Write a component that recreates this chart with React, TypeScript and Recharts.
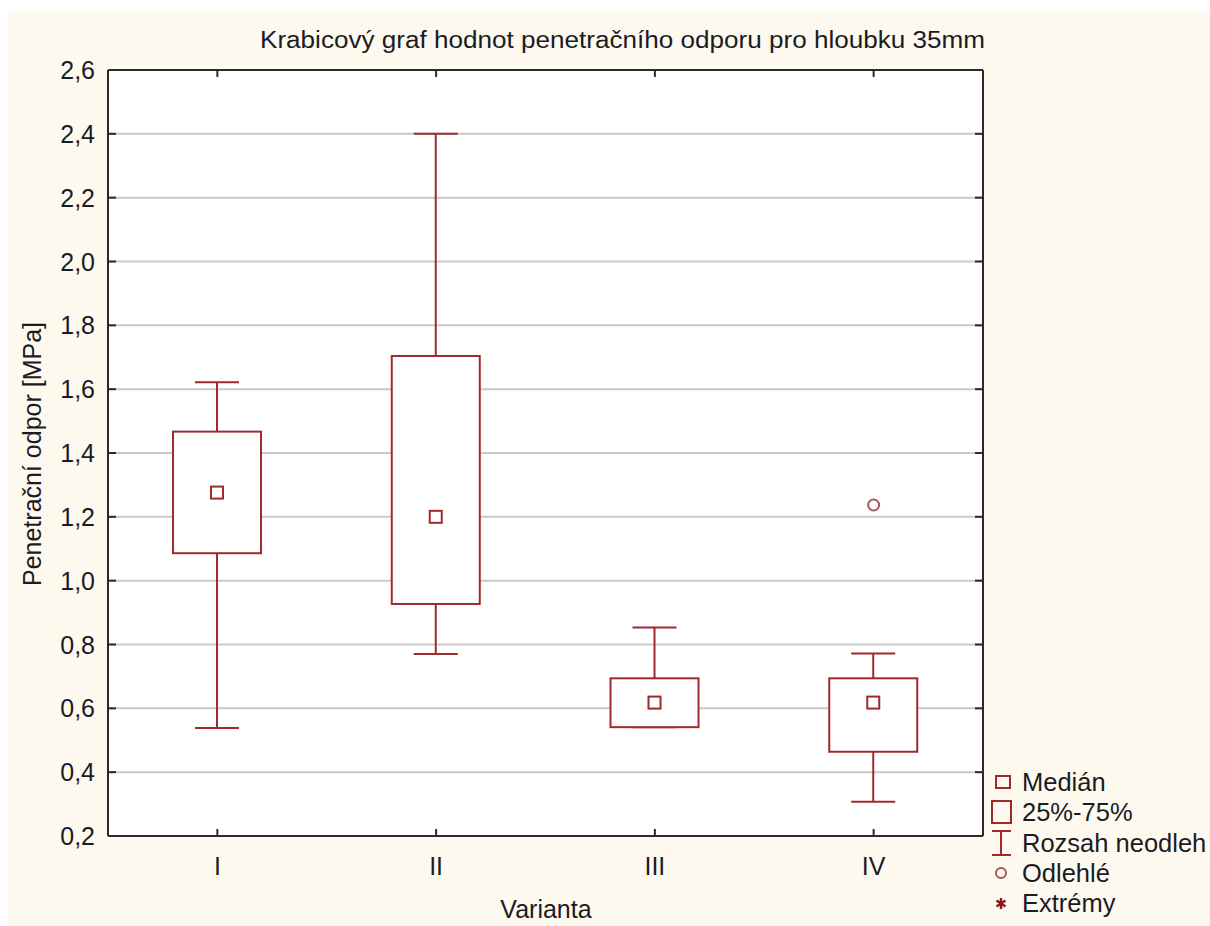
import React from 'react';
import {
  ComposedChart,
  Bar,
  Scatter,
  XAxis,
  YAxis,
  CartesianGrid,
  Legend,
} from 'recharts';

// Box plot statistics per variant (MPa)
const categories = ['I', 'II', 'III', 'IV'];
const whiskerLow = [0.538, 0.77, 0.541, 0.307];
const quartile1 = [1.086, 0.927, 0.541, 0.464];
const medians = [1.276, 1.2, 0.618, 0.618];
const quartile3 = [1.467, 1.704, 0.694, 0.694];
const whiskerHigh = [1.622, 2.4, 0.853, 0.772];
const outliers: (number | null)[] = [null, null, null, 1.237];

const yTicks = [0.2, 0.4, 0.6, 0.8, 1.0, 1.2, 1.4, 1.6, 1.8, 2.0, 2.2, 2.4, 2.6];

const data = categories.map((name, i) => ({
  name,
  box: [quartile1[i], quartile3[i]],
  low: whiskerLow[i],
  q1: quartile1[i],
  median: medians[i],
  q3: quartile3[i],
  high: whiskerHigh[i],
  outlier: outliers[i],
}));

const RED = '#a0292c';
const TEXT = '#1b1b24';
const AXIS = '#2a2a2a';
const FONT = '"Liberation Sans", Arial, sans-serif';

const fmt = (v: number) => v.toFixed(1).replace('.', ',');

// Whole box-and-whisker glyph, derived from the bar's pixel range for [q1, q3]
const BoxShape = (props: any) => {
  const { x, y, width, height, payload } = props;
  if (x == null || y == null || !payload) return null;
  const h = Math.abs(height);
  const top = height >= 0 ? y : y + height;
  const pxPerUnit = h / (payload.q3 - payload.q1);
  const yOf = (v: number) => top + (payload.q3 - v) * pxPerUnit;
  const cx = x + width / 2;
  const cap = width / 4;
  const yHigh = yOf(payload.high);
  const yLow = yOf(payload.low);
  const yMed = yOf(payload.median);
  return (
    <g stroke={RED} strokeWidth={2} fill="none">
      <line x1={cx} x2={cx} y1={yHigh} y2={top} />
      <line x1={cx - cap} x2={cx + cap} y1={yHigh} y2={yHigh} />
      <line x1={cx} x2={cx} y1={top + h} y2={yLow} />
      <line x1={cx - cap} x2={cx + cap} y1={yLow} y2={yLow} />
      <rect x={x} y={top} width={width} height={h} fill="#ffffff" />
      <rect x={cx - 6} y={yMed - 6} width={12} height={12} fill="#ffffff" />
    </g>
  );
};

const OutlierShape = (props: any) => {
  const { cx, cy, payload } = props;
  if (!payload || payload.outlier == null || !isFinite(cy)) return null;
  return <circle cx={cx} cy={cy} r={5.5} fill="none" stroke="#a5575b" strokeWidth={2} />;
};

const LeftTick = (props: any) => {
  const { x, y, payload } = props;
  return (
    <g>
      <line x1={x} x2={x + 8} y1={y} y2={y} stroke={AXIS} strokeWidth={2} />
      <text x={x - 13} y={y} dy={9} textAnchor="end" fontSize={25} fill={TEXT} fontFamily={FONT}>
        {fmt(payload.value)}
      </text>
    </g>
  );
};

const RightTick = (props: any) => {
  const { x, y } = props;
  return <line x1={x - 8} x2={x} y1={y} y2={y} stroke={AXIS} strokeWidth={2} />;
};

const BottomTick = (props: any) => {
  const { x, y, payload } = props;
  return (
    <g>
      <line x1={x} x2={x} y1={y} y2={y - 7} stroke={AXIS} strokeWidth={2} />
      <text x={x} y={y} dy={39} textAnchor="middle" fontSize={25} fill={TEXT} fontFamily={FONT}>
        {payload.value}
      </text>
    </g>
  );
};

const TopTick = (props: any) => {
  const { x, y } = props;
  return <line x1={x} x2={x} y1={y} y2={y + 7} stroke={AXIS} strokeWidth={2} />;
};

const legendItems = ['Medián', '25%-75%', 'Rozsah neodleh', 'Odlehlé', 'Extrémy'];
const legendRows = [22, 52, 83, 113, 143];

const LegendContent = () => (
  <svg width={230} height={160} style={{ display: 'block', overflow: 'visible' }}>
    <g stroke={RED} strokeWidth={2} fill="none">
      <rect x={16} y={16} width={14} height={12} />
      <rect x={12} y={41} width={19} height={22} />
      <line x1={12} x2={31} y1={71} y2={71} />
      <line x1={21} x2={21} y1={71} y2={95} />
      <line x1={12} x2={31} y1={95} y2={95} />
      <circle cx={21} cy={113} r={5} stroke="#a5575b" />
    </g>
    <g stroke="#8a1a1e" strokeWidth={2.5}>
      <line x1={21} x2={21} y1={138} y2={149} />
      <line x1={16.5} x2={25.5} y1={140.5} y2={146.5} />
      <line x1={16.5} x2={25.5} y1={146.5} y2={140.5} />
    </g>
    {legendItems.map((t, i) => (
      <text key={t} x={42} y={legendRows[i] + 9} fontSize={25.5} fill={TEXT} fontFamily={FONT}>
        {t}
      </text>
    ))}
  </svg>
);

export default function App() {
  return (
    <div style={{ position: 'absolute', left: 0, top: 0, width: 1210, height: 926, background: '#ffffff', overflow: 'hidden' }}>
      <div style={{ position: 'absolute', left: 8, top: 11, right: 0, bottom: 0, background: '#fef9ee' }} />
      <div style={{ position: 'absolute', left: 0, top: 0 }}>
        <ComposedChart
          width={1210}
          height={926}
          data={data}
          margin={{ top: 69, right: 226, bottom: 40, left: 48 }}
        >
          <CartesianGrid vertical={false} stroke="#c9c9c9" strokeWidth={2} fill="#ffffff" fillOpacity={1} />
          <XAxis
            dataKey="name"
            type="category"
            height={50}
            tickSize={0}
            tickMargin={0}
            axisLine={{ stroke: AXIS, strokeWidth: 2 }}
            tickLine={false}
            tick={<BottomTick />}
          />
          <XAxis
            xAxisId="top"
            dataKey="name"
            orientation="top"
            height={1}
            tickSize={0}
            tickMargin={0}
            axisLine={{ stroke: AXIS, strokeWidth: 2 }}
            tickLine={false}
            tick={<TopTick />}
          />
          <YAxis
            type="number"
            domain={[0.2, 2.6]}
            ticks={yTicks}
            interval={0}
            width={60}
            tickSize={0}
            tickMargin={0}
            axisLine={{ stroke: AXIS, strokeWidth: 2 }}
            tickLine={false}
            tick={<LeftTick />}
            allowDataOverflow
          />
          <YAxis
            yAxisId="right"
            orientation="right"
            type="number"
            domain={[0.2, 2.6]}
            ticks={yTicks}
            interval={0}
            width={1}
            tickSize={0}
            tickMargin={0}
            axisLine={{ stroke: AXIS, strokeWidth: 2 }}
            tickLine={false}
            tick={<RightTick />}
            allowDataOverflow
          />
          <Bar dataKey="box" barSize={88} shape={<BoxShape />} isAnimationActive={false} />
          <Scatter dataKey="outlier" shape={<OutlierShape />} isAnimationActive={false} />
          <Legend
            layout="vertical"
            align="center"
            verticalAlign="middle"
            content={<LegendContent />}
            wrapperStyle={{ left: 980, top: 760, width: 230, height: 160 }}
          />
          <text
            x={260}
            y={48}
            fontSize={23}
            fill={TEXT}
            fontFamily={'"Liberation Sans Narrow", "Liberation Sans", Arial, sans-serif'}
            textLength={725}
            lengthAdjust="spacingAndGlyphs"
          >
            Krabicový graf hodnot penetračního odporu pro hloubku 35mm
          </text>
          <text
            x={546}
            y={918}
            textAnchor="middle"
            fontSize={25}
            fill={TEXT}
            fontFamily={FONT}
          >
            Varianta
          </text>
          <text
            x={0}
            y={0}
            transform="translate(41, 454) rotate(-90)"
            textAnchor="middle"
            fontSize={25}
            fill={TEXT}
            fontFamily={FONT}
          >
            Penetrační odpor [MPa]
          </text>
        </ComposedChart>
      </div>
    </div>
  );
}
